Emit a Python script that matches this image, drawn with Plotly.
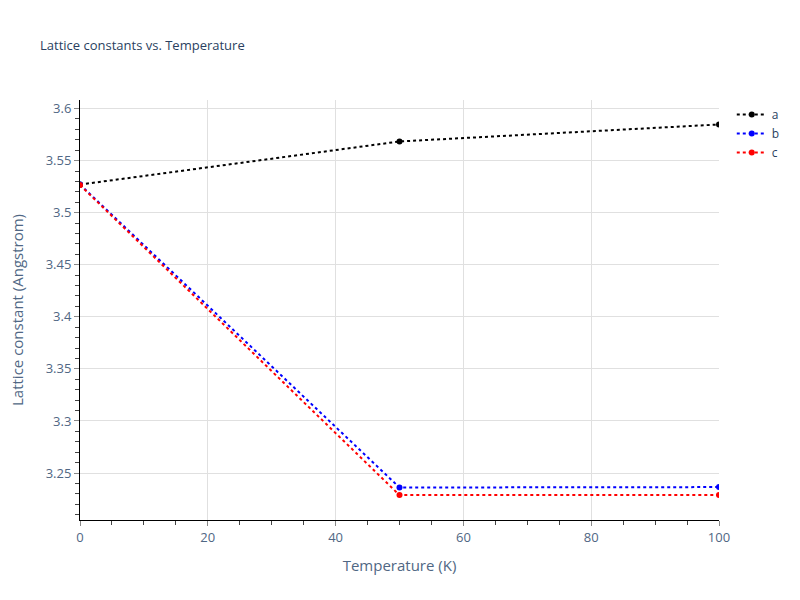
import plotly.graph_objects as go

temperature = [0, 50, 100]
lattice_a = [3.527, 3.5684, 3.5847]
lattice_b = [3.527, 3.2361, 3.2365]
lattice_c = [3.5265, 3.2288, 3.2290]

series = [("a", lattice_a, "black"), ("b", lattice_b, "blue"), ("c", lattice_c, "red")]

fig = go.Figure()
for name, values, color in series:
    fig.add_trace(go.Scatter(
        x=temperature, y=values, name=name, mode="lines+markers",
        line=dict(color=color, dash="dot", width=2),
        marker=dict(color=color, size=6),
    ))

axis_style = dict(
    showline=True, linecolor="black", linewidth=1,
    showgrid=True, gridcolor="#e0e0e0", gridwidth=1,
    ticks="outside", tickcolor="#888", ticklen=5,
    zeroline=False,
    title_font=dict(size=15, color="#506784"),
    tickfont=dict(size=13, color="#506784"),
)

fig.update_xaxes(range=[0, 100], dtick=20,
                 minor=dict(ticks="outside", dtick=5, ticklen=4, tickcolor="#444"),
                 title_text="Temperature (K)", **axis_style)
fig.update_yaxes(range=[3.2049, 3.6082], dtick=0.05,
                 minor=dict(ticks="outside", dtick=0.01, ticklen=4, tickcolor="#444"),
                 title_text="Lattice constant (Angstrom)", title_standoff=18, **axis_style)

fig.update_layout(
    width=800, height=600,
    template="plotly_white",
    title=dict(text="Lattice constants vs. Temperature", x=0.05,
               font=dict(size=13, color="#2a3f5f")),
    plot_bgcolor="white", paper_bgcolor="white",
    legend=dict(font=dict(size=12, color="#2a3f5f")),
    margin=dict(l=80, r=81, t=100, b=80),
)

# the reference sits flush with the window corner, so drop the page margin
fig.write_html("out.html", config={"displayModeBar": False},
               post_script="document.body.style.margin='0';")
